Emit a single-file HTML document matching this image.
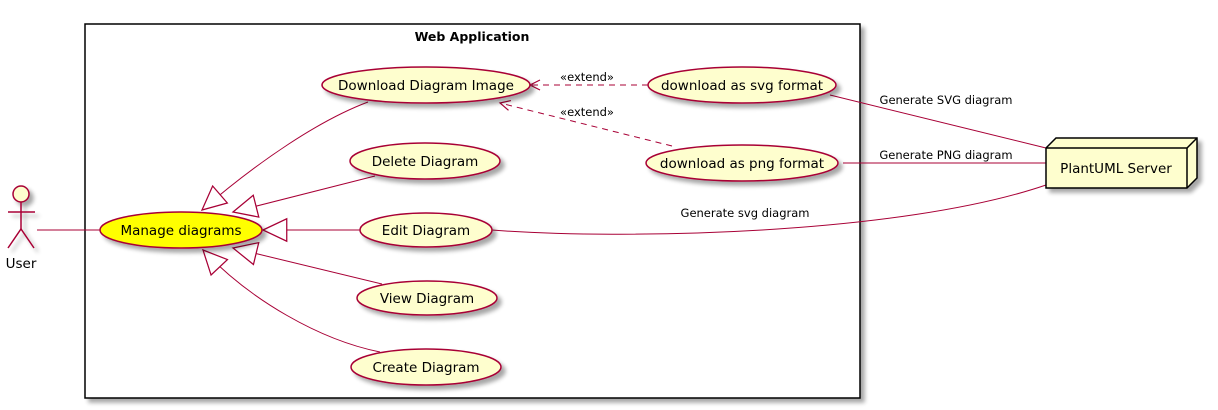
<!DOCTYPE html>
<html><head><meta charset="utf-8"><style>html,body{margin:0;padding:0;background:#fff}svg{display:block}text{font-family:"DejaVu Sans","Liberation Sans",sans-serif}</style></head>
<body>
<svg width="1218" height="410" viewBox="0 0 1218 410" xmlns="http://www.w3.org/2000/svg">
<defs>
<filter id="sh" x="-20%" y="-20%" width="150%" height="160%"><feGaussianBlur in="SourceAlpha" stdDeviation="2"/><feOffset dx="4" dy="4"/><feComponentTransfer><feFuncA type="linear" slope="0.35"/></feComponentTransfer><feMerge><feMergeNode/><feMergeNode in="SourceGraphic"/></feMerge></filter>
<marker id="tri" markerUnits="userSpaceOnUse" markerWidth="30" markerHeight="30" refX="0" refY="10" orient="auto" viewBox="-2 0 24 20"><polygon points="0,10 19,1 19,19" fill="#fff" stroke="#A80036" stroke-width="1"/></marker>
<marker id="opn" markerUnits="userSpaceOnUse" markerWidth="14" markerHeight="14" refX="11" refY="6" orient="auto" viewBox="0 0 14 12"><polyline points="1,1 11,6 1,11" fill="none" stroke="#A80036" stroke-width="1.2"/></marker>
</defs>
<rect x="85" y="24" width="775" height="374" fill="#fff" stroke="#000" stroke-width="1.5" filter="url(#sh)"/>
<text x="472" y="41" font-size="12.5" font-weight="bold" text-anchor="middle">Web Application</text>

<g stroke="#A80036" stroke-width="1.5" fill="none" filter="url(#sh)">
<circle cx="21" cy="194" r="8" fill="#FEFECE"/>
<line x1="21" y1="202" x2="21" y2="229"/>
<line x1="8" y1="212" x2="35" y2="212"/>
<polyline points="8,248 21,229 34,248"/>
</g>
<text x="21" y="268" font-size="13.5" text-anchor="middle">User</text>
<line x1="37" y1="230" x2="100" y2="230" stroke="#A80036"/>

<g stroke="#A80036" fill="none" stroke-width="1">
<path d="M202,210 C260,160 320,120 368,102" marker-start="url(#tri)"/>
<path d="M233,212 L375,176" marker-start="url(#tri)"/>
<path d="M263,230 L360,230" marker-start="url(#tri)"/>
<path d="M233,248 L382,284" marker-start="url(#tri)"/>
<path d="M203,250 C250,300 320,340 380,352" marker-start="url(#tri)"/>
<path d="M648,85 L530,85" stroke-dasharray="6,5" marker-end="url(#opn)"/>
<path d="M672,146 L500,103" stroke-dasharray="6,5" marker-end="url(#opn)"/>
<path d="M830,95 L1046,148"/>
<path d="M843,163 L1046,163"/>
<path d="M492,230 C620,240 900,235 1046,185"/>
</g>

<g stroke="#A80036" stroke-width="1.5" fill="#FEFECE" filter="url(#sh)">
<ellipse cx="181" cy="230" rx="81" ry="18" fill="#FFFF00"/>
<ellipse cx="426" cy="85" rx="104" ry="18"/>
<ellipse cx="425" cy="161" rx="75" ry="18"/>
<ellipse cx="426" cy="230" rx="66" ry="17"/>
<ellipse cx="427" cy="298" rx="70" ry="17"/>
<ellipse cx="426" cy="367" rx="75" ry="18"/>
<ellipse cx="742" cy="85" rx="94" ry="18"/>
<ellipse cx="742" cy="163" rx="96" ry="18"/>
</g>
<g font-size="13.5" text-anchor="middle">
<text x="181" y="235">Manage diagrams</text>
<text x="426" y="90">Download Diagram Image</text>
<text x="425" y="166">Delete Diagram</text>
<text x="426" y="235">Edit Diagram</text>
<text x="427" y="303">View Diagram</text>
<text x="426" y="372">Create Diagram</text>
<text x="742" y="90">download as svg format</text>
<text x="742" y="168">download as png format</text>
</g>
<g font-size="11.5" text-anchor="middle">
<text x="587" y="81">«extend»</text>
<text x="587" y="116">«extend»</text>
<text x="946" y="104">Generate SVG diagram</text>
<text x="946" y="159">Generate PNG diagram</text>
<text x="745" y="217">Generate svg diagram</text>
</g>

<g stroke="#000" stroke-width="1.5" fill="#FEFECE" filter="url(#sh)">
<polygon points="1046,148 1056,138 1197,138 1197,178 1187,188 1046,188"/>
</g>
<g stroke="#000" stroke-width="1.5" fill="none">
<polyline points="1046,148 1187,148 1197,138"/>
<line x1="1187" y1="148" x2="1187" y2="188"/>
</g>
<text x="1116" y="173" font-size="13.5" text-anchor="middle">PlantUML Server</text>
</svg>
</body></html>
